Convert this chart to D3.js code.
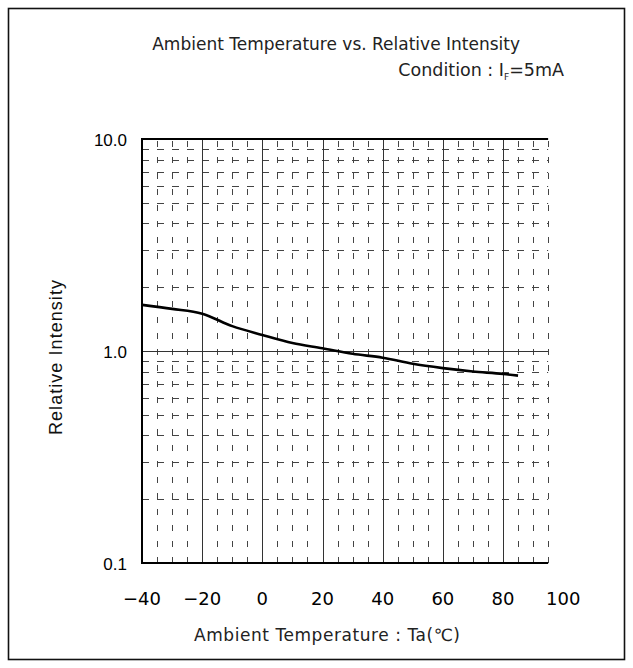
<!DOCTYPE html>
<html>
<head>
<meta charset="utf-8">
<script src="https://cdn.jsdelivr.net/npm/d3@7"></script>
<style>
  html, body { margin: 0; padding: 0; background: #fff; }
  svg { display: block; }
</style>
</head>
<body>
<svg id="chart" width="633" height="668"></svg>
<script>
// ---- data ----
const temperatures = [-40, -30, -20, -10, 0, 10, 20, 30, 40, 50, 60, 70, 80, 85];
const intensity = [1.65, 1.58, 1.50, 1.31, 1.19, 1.09, 1.03, 0.97, 0.93, 0.87, 0.83, 0.80, 0.78, 0.765];
const xTickValues = [-40, -20, 0, 20, 40, 60, 80, 100];
const yTickValues = [0.1, 1, 10];
const yTickLabels = ["0.1", "1.0", "10.0"];
const titleText = "Ambient Temperature vs. Relative Intensity";
const xAxisTitle = "Ambient Temperature : Ta(\u2103)";
const yAxisTitle = "Relative Intensity";

(function () {
// ---- layout ----
const svg = d3.select("#chart");
const plotTop = 139, plotBottom = 563;
const x = d3.scaleLinear().domain([-40, 80]).range([142, 503]);
const xEnd = 95; // grid extent on the right
const y = d3.scaleLog().domain([0.1, 10]).range([plotBottom, plotTop]);
const txtFont = "'DejaVu Sans', 'Noto Sans', sans-serif";

// outer frame
svg.append("rect").attr("x", 8.5).attr("y", 8.5).attr("width", 616).attr("height", 651)
  .attr("fill", "none").attr("stroke", "#111").attr("stroke-width", 1.6);

const g = svg.append("g");

// minor horizontals (dashed)
const minorY = [];
[0.1, 1].forEach(d => { for (let k = 2; k <= 9; k++) minorY.push(+(d * k).toFixed(3)); });
g.selectAll(".hminor").data(minorY).join("line")
  .attr("x1", x(-40)).attr("x2", x(xEnd))
  .attr("y1", d => Math.round(y(d)) + 0.5).attr("y2", d => Math.round(y(d)) + 0.5)
  .attr("stroke", "#444").attr("stroke-width", 1)
  .attr("stroke-dasharray", "7,8");

// minor verticals (dashed)
const minorX = d3.range(-35, xEnd + 1, 5).filter(v => v % 20 !== 0);
g.selectAll(".vminor").data(minorX).join("line")
  .attr("x1", d => Math.round(x(d)) + 0.5).attr("x2", d => Math.round(x(d)) + 0.5)
  .attr("y1", plotTop).attr("y2", plotBottom)
  .attr("stroke", "#444").attr("stroke-width", 1)
  .attr("stroke-dasharray", "6,10").attr("stroke-dashoffset", -2);

// major verticals
g.selectAll(".vmajor").data([-20, 0, 20, 40, 60, 80]).join("line")
  .attr("x1", d => Math.round(x(d)) + 0.5).attr("x2", d => Math.round(x(d)) + 0.5)
  .attr("y1", plotTop).attr("y2", plotBottom)
  .attr("stroke", "#333").attr("stroke-width", 1);

// major horizontal at 1.0
g.append("line").attr("x1", x(-40)).attr("x2", x(xEnd))
  .attr("y1", Math.round(y(1)) + 0.5).attr("y2", Math.round(y(1)) + 0.5)
  .attr("stroke", "#333").attr("stroke-width", 1);

// borders: left, top, bottom
g.append("line").attr("x1", x(-40)).attr("x2", x(-40)).attr("y1", plotTop).attr("y2", plotBottom)
  .attr("stroke", "#000").attr("stroke-width", 2);
g.append("line").attr("x1", x(-40) - 1).attr("x2", x(xEnd)).attr("y1", plotTop).attr("y2", plotTop)
  .attr("stroke", "#000").attr("stroke-width", 2);
g.append("line").attr("x1", x(-40) - 1).attr("x2", x(xEnd)).attr("y1", plotBottom).attr("y2", plotBottom)
  .attr("stroke", "#000").attr("stroke-width", 2);

// curve
const line = d3.line().x((d, i) => x(temperatures[i])).y(d => y(d)).curve(d3.curveMonotoneX);
g.append("path").datum(intensity).attr("d", line)
  .attr("fill", "none").attr("stroke", "#000").attr("stroke-width", 2.6);

// x tick labels
svg.selectAll(".xt").data(xTickValues).join("text")
  .attr("x", d => x(d)).attr("y", 605)
  .attr("text-anchor", "middle")
  .attr("font-family", "'DejaVu Sans', sans-serif").attr("font-size", 18)
  .attr("fill", "#000")
  .text(d => d < 0 ? "\u2212" + Math.abs(d) : String(d));

// y tick labels
svg.selectAll(".yt").data(yTickValues).join("text")
  .attr("x", 127).attr("y", d => y(d) + 7)
  .attr("text-anchor", "end")
  .attr("font-family", "'Liberation Sans', Arial, sans-serif").attr("font-size", 17)
  .attr("fill", "#000")
  .text((d, i) => yTickLabels[i]);

// title
svg.append("text").attr("x", 520).attr("y", 50).attr("text-anchor", "end")
  .attr("font-family", txtFont).attr("font-size", 17)
  .attr("fill", "#222").text(titleText);

// condition (single text with subscript tspan)
const cond = svg.append("text").attr("x", 564).attr("y", 76).attr("text-anchor", "end")
  .attr("font-family", txtFont).attr("font-size", 17.5)
  .attr("fill", "#222");
cond.append("tspan").text("Condition : I");
cond.append("tspan").attr("font-size", 9).attr("dy", 4).text("F");
cond.append("tspan").attr("dy", -4).text("=5mA");

// x axis title
svg.append("text").attr("x", 327).attr("y", 641).attr("text-anchor", "middle")
  .attr("font-family", txtFont).attr("font-size", 17)
  .attr("textLength", 266).attr("lengthAdjust", "spacing")
  .attr("fill", "#222").text(xAxisTitle);

// y axis title
svg.append("text").attr("transform", "translate(62,435) rotate(-90)")
  .attr("text-anchor", "start")
  .attr("font-family", "'Liberation Sans', Arial, sans-serif").attr("font-size", 18)
  .attr("textLength", 155).attr("lengthAdjust", "spacing")
  .attr("fill", "#111").text(yAxisTitle);
})();
</script>
</body>
</html>
